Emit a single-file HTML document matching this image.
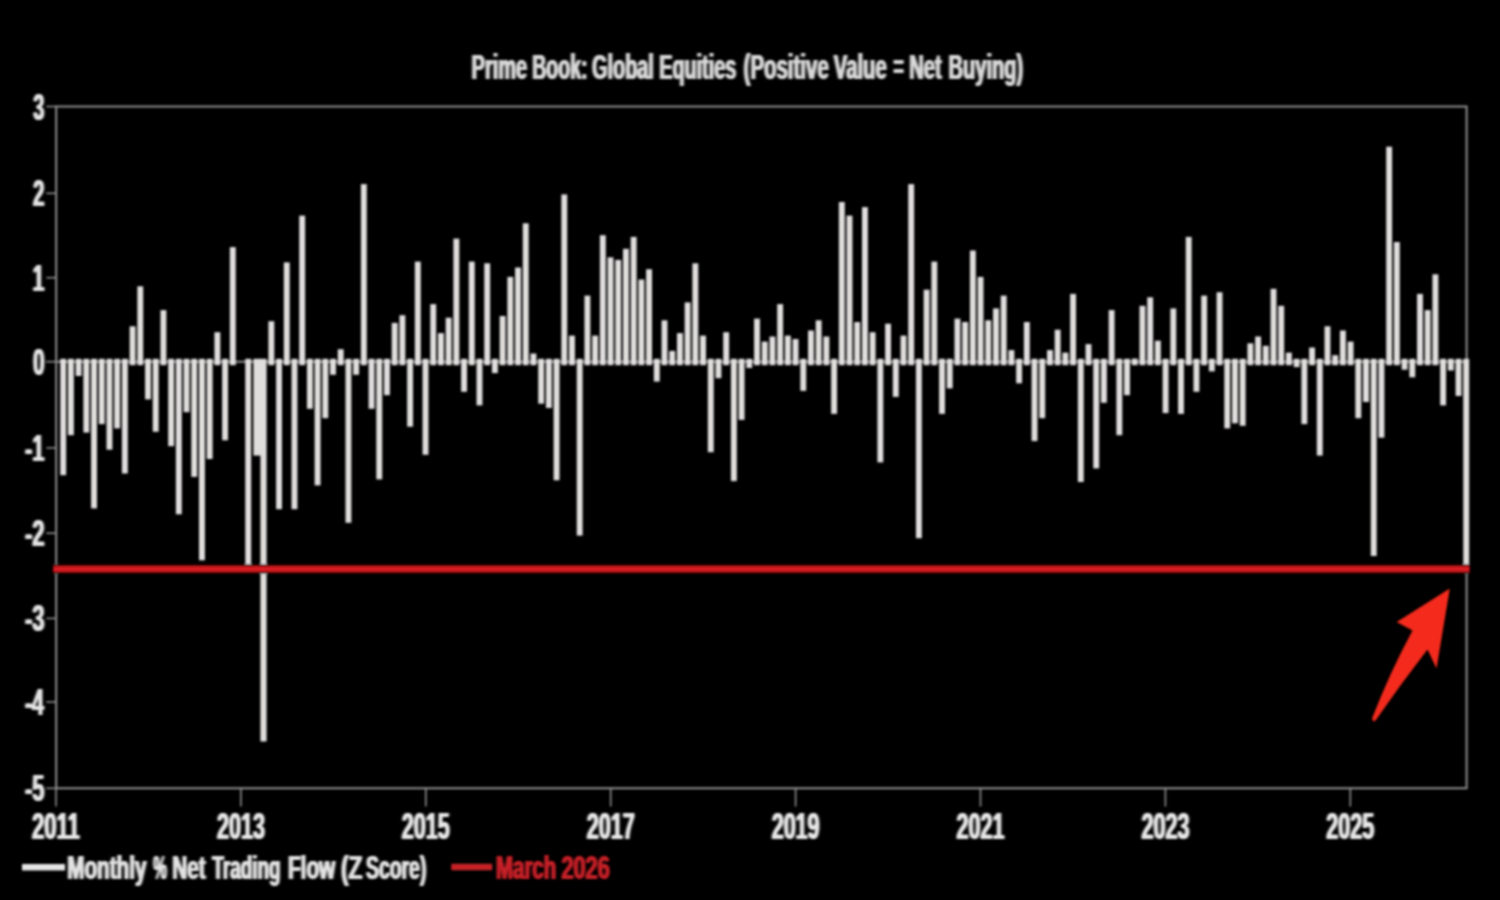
<!DOCTYPE html>
<html lang="en">
<head>
<meta charset="utf-8">
<title>Prime Book: Global Equities</title>
<style>
html,body{margin:0;padding:0;background:#000;}
body{width:1500px;height:900px;overflow:hidden;}
svg{display:block;}
text{font-family:"Liberation Sans",Arial,Helvetica,sans-serif;font-weight:bold;}
</style>
</head>
<body>
<svg width="1500" height="900" viewBox="0 0 1500 900">
<defs>
<filter id="soft" x="-5%" y="-5%" width="110%" height="110%"><feGaussianBlur stdDeviation="1.3"/></filter>
<filter id="txt" x="-1%" y="-1%" width="102%" height="102%" color-interpolation-filters="sRGB"><feGaussianBlur in="SourceGraphic" stdDeviation="0.9 0.3"/><feComponentTransfer><feFuncA type="linear" slope="1.65" intercept="0"/></feComponentTransfer></filter>
</defs>
<rect x="0" y="0" width="1500" height="900" fill="#000"/>
<g filter="url(#soft)">
<g fill="none" stroke="#8e8e8e" stroke-width="2">
<path d="M56.2 106.5 H1466.6 V788.3 H56.2 Z"/>
</g>
<g fill="none" stroke="#8e8e8e" stroke-width="1.6">
<path d="M46.3 106.5 H56.2"/>
<path d="M46.3 193.3 H56.2"/>
<path d="M46.3 277.7 H56.2"/>
<path d="M46.3 361.7 H56.2"/>
<path d="M46.3 447.9 H56.2"/>
<path d="M46.3 533.2 H56.2"/>
<path d="M46.3 618.4 H56.2"/>
<path d="M46.3 702.0 H56.2"/>
<path d="M46.3 788.3 H56.2"/>
<path d="M56.0 788.3 V806.5"/>
<path d="M240.9 788.3 V806.5"/>
<path d="M425.8 788.3 V806.5"/>
<path d="M610.7 788.3 V806.5"/>
<path d="M795.6 788.3 V806.5"/>
<path d="M980.5 788.3 V806.5"/>
<path d="M1165.4 788.3 V806.5"/>
<path d="M1350.3 788.3 V806.5"/>
</g>
<path d="M56.2 361.7 H1466.6" stroke="#8a8a8a" stroke-width="2" fill="none"/>
<g fill="#e0dddd">
<rect x="60.25" y="358.8" width="5.90" height="116.4"/>
<rect x="67.96" y="358.8" width="5.90" height="76.4"/>
<rect x="75.67" y="358.8" width="5.90" height="17.2"/>
<rect x="83.38" y="358.8" width="5.90" height="73.8"/>
<rect x="91.09" y="358.8" width="5.90" height="149.6"/>
<rect x="98.80" y="358.8" width="5.90" height="65.3"/>
<rect x="106.50" y="358.8" width="5.90" height="90.9"/>
<rect x="114.21" y="358.8" width="5.90" height="69.6"/>
<rect x="121.92" y="358.8" width="5.90" height="114.7"/>
<rect x="129.63" y="326.3" width="5.90" height="38.9"/>
<rect x="137.34" y="286.3" width="5.90" height="78.9"/>
<rect x="145.05" y="358.8" width="5.90" height="40.6"/>
<rect x="152.76" y="358.8" width="5.90" height="73.0"/>
<rect x="160.47" y="310.1" width="5.90" height="55.1"/>
<rect x="168.18" y="358.8" width="5.90" height="87.4"/>
<rect x="175.88" y="358.8" width="5.90" height="155.5"/>
<rect x="183.59" y="358.8" width="5.90" height="53.4"/>
<rect x="191.30" y="358.8" width="5.90" height="118.1"/>
<rect x="199.01" y="358.8" width="5.90" height="201.5"/>
<rect x="206.72" y="358.8" width="5.90" height="100.2"/>
<rect x="214.43" y="332.2" width="5.90" height="33.0"/>
<rect x="222.14" y="358.8" width="5.90" height="81.5"/>
<rect x="229.85" y="247.1" width="5.90" height="118.1"/>
<rect x="245.27" y="358.8" width="5.90" height="210.0"/>
<rect x="253.40" y="358.8" width="7.80" height="96.8"/>
<rect x="260.40" y="358.8" width="6.20" height="382.7"/>
<rect x="268.39" y="321.2" width="5.90" height="44.0"/>
<rect x="276.10" y="358.8" width="5.90" height="150.4"/>
<rect x="283.81" y="262.4" width="5.90" height="102.8"/>
<rect x="291.52" y="358.8" width="5.90" height="150.4"/>
<rect x="299.23" y="215.6" width="5.90" height="149.6"/>
<rect x="306.94" y="358.8" width="5.90" height="50.0"/>
<rect x="314.65" y="358.8" width="5.90" height="126.6"/>
<rect x="322.36" y="358.8" width="5.90" height="59.4"/>
<rect x="330.06" y="358.8" width="5.90" height="16.0"/>
<rect x="337.77" y="349.2" width="5.90" height="16.0"/>
<rect x="345.48" y="358.8" width="5.90" height="164.0"/>
<rect x="353.19" y="358.8" width="5.90" height="16.0"/>
<rect x="360.90" y="184.1" width="5.90" height="181.1"/>
<rect x="368.61" y="358.8" width="5.90" height="50.0"/>
<rect x="376.32" y="358.8" width="5.90" height="120.6"/>
<rect x="384.03" y="358.8" width="5.90" height="36.4"/>
<rect x="391.74" y="322.9" width="5.90" height="42.3"/>
<rect x="399.45" y="315.2" width="5.90" height="50.0"/>
<rect x="407.15" y="358.8" width="5.90" height="67.9"/>
<rect x="414.86" y="261.6" width="5.90" height="103.6"/>
<rect x="422.57" y="358.8" width="5.90" height="96.0"/>
<rect x="430.28" y="304.1" width="5.90" height="61.1"/>
<rect x="437.99" y="333.1" width="5.90" height="32.1"/>
<rect x="445.70" y="317.7" width="5.90" height="47.5"/>
<rect x="453.41" y="238.6" width="5.90" height="126.6"/>
<rect x="461.12" y="358.8" width="5.90" height="33.0"/>
<rect x="468.83" y="261.6" width="5.90" height="103.6"/>
<rect x="476.54" y="358.8" width="5.90" height="46.6"/>
<rect x="484.25" y="263.3" width="5.90" height="101.9"/>
<rect x="491.95" y="358.8" width="5.90" height="14.3"/>
<rect x="499.66" y="316.0" width="5.90" height="49.2"/>
<rect x="507.37" y="276.9" width="5.90" height="88.3"/>
<rect x="515.08" y="267.5" width="5.90" height="97.7"/>
<rect x="522.79" y="223.3" width="5.90" height="141.9"/>
<rect x="530.50" y="353.5" width="5.90" height="11.7"/>
<rect x="538.21" y="358.8" width="5.90" height="44.9"/>
<rect x="545.92" y="358.8" width="5.90" height="49.2"/>
<rect x="553.63" y="358.8" width="5.90" height="121.5"/>
<rect x="561.33" y="194.4" width="5.90" height="170.8"/>
<rect x="569.04" y="335.6" width="5.90" height="29.6"/>
<rect x="576.75" y="358.8" width="5.90" height="176.8"/>
<rect x="584.46" y="295.6" width="5.90" height="69.6"/>
<rect x="592.17" y="335.6" width="5.90" height="29.6"/>
<rect x="599.88" y="235.2" width="5.90" height="130.0"/>
<rect x="607.59" y="257.3" width="5.90" height="107.9"/>
<rect x="615.30" y="259.9" width="5.90" height="105.3"/>
<rect x="623.01" y="248.8" width="5.90" height="116.4"/>
<rect x="630.72" y="236.9" width="5.90" height="128.3"/>
<rect x="638.42" y="279.5" width="5.90" height="85.7"/>
<rect x="646.13" y="269.2" width="5.90" height="96.0"/>
<rect x="653.84" y="358.8" width="5.90" height="22.8"/>
<rect x="661.55" y="320.3" width="5.90" height="44.9"/>
<rect x="669.26" y="350.9" width="5.90" height="14.3"/>
<rect x="676.97" y="333.1" width="5.90" height="32.1"/>
<rect x="684.68" y="302.4" width="5.90" height="62.8"/>
<rect x="692.39" y="263.3" width="5.90" height="101.9"/>
<rect x="700.10" y="335.6" width="5.90" height="29.6"/>
<rect x="707.81" y="358.8" width="5.90" height="93.4"/>
<rect x="715.51" y="358.8" width="5.90" height="19.4"/>
<rect x="723.22" y="332.2" width="5.90" height="33.0"/>
<rect x="730.93" y="358.8" width="5.90" height="122.3"/>
<rect x="738.64" y="358.8" width="5.90" height="61.1"/>
<rect x="746.35" y="358.8" width="5.90" height="9.2"/>
<rect x="754.06" y="318.6" width="5.90" height="46.6"/>
<rect x="761.77" y="341.6" width="5.90" height="23.6"/>
<rect x="769.48" y="336.5" width="5.90" height="28.7"/>
<rect x="777.19" y="304.1" width="5.90" height="61.1"/>
<rect x="784.90" y="335.6" width="5.90" height="29.6"/>
<rect x="792.61" y="339.0" width="5.90" height="26.2"/>
<rect x="800.31" y="358.8" width="5.90" height="32.1"/>
<rect x="808.02" y="330.5" width="5.90" height="34.7"/>
<rect x="815.73" y="320.3" width="5.90" height="44.9"/>
<rect x="823.44" y="336.5" width="5.90" height="28.7"/>
<rect x="831.15" y="358.8" width="5.90" height="55.1"/>
<rect x="838.86" y="202.0" width="5.90" height="163.2"/>
<rect x="846.57" y="215.6" width="5.90" height="149.6"/>
<rect x="854.28" y="322.0" width="5.90" height="43.2"/>
<rect x="861.99" y="207.1" width="5.90" height="158.1"/>
<rect x="869.69" y="332.2" width="5.90" height="33.0"/>
<rect x="877.40" y="358.8" width="5.90" height="103.6"/>
<rect x="885.11" y="323.7" width="5.90" height="41.5"/>
<rect x="892.82" y="358.8" width="5.90" height="38.1"/>
<rect x="900.53" y="335.6" width="5.90" height="29.6"/>
<rect x="908.24" y="184.1" width="5.90" height="181.1"/>
<rect x="915.95" y="358.8" width="5.90" height="179.4"/>
<rect x="923.66" y="289.7" width="5.90" height="75.5"/>
<rect x="931.37" y="261.6" width="5.90" height="103.6"/>
<rect x="939.08" y="358.8" width="5.90" height="55.1"/>
<rect x="946.78" y="358.8" width="5.90" height="29.6"/>
<rect x="954.49" y="318.6" width="5.90" height="46.6"/>
<rect x="962.20" y="322.0" width="5.90" height="43.2"/>
<rect x="969.91" y="250.5" width="5.90" height="114.7"/>
<rect x="977.62" y="276.9" width="5.90" height="88.3"/>
<rect x="985.33" y="320.3" width="5.90" height="44.9"/>
<rect x="993.04" y="308.4" width="5.90" height="56.8"/>
<rect x="1000.75" y="295.6" width="5.90" height="69.6"/>
<rect x="1008.46" y="350.1" width="5.90" height="15.1"/>
<rect x="1016.17" y="358.8" width="5.90" height="24.5"/>
<rect x="1023.88" y="322.0" width="5.90" height="43.2"/>
<rect x="1031.58" y="358.8" width="5.90" height="82.3"/>
<rect x="1039.29" y="358.8" width="5.90" height="59.4"/>
<rect x="1047.00" y="350.1" width="5.90" height="15.1"/>
<rect x="1054.71" y="329.7" width="5.90" height="35.5"/>
<rect x="1062.42" y="352.6" width="5.90" height="12.6"/>
<rect x="1070.13" y="293.9" width="5.90" height="71.3"/>
<rect x="1077.84" y="358.8" width="5.90" height="123.2"/>
<rect x="1085.55" y="344.1" width="5.90" height="21.1"/>
<rect x="1093.26" y="358.8" width="5.90" height="109.6"/>
<rect x="1100.96" y="358.8" width="5.90" height="44.0"/>
<rect x="1108.67" y="310.1" width="5.90" height="55.1"/>
<rect x="1116.38" y="358.8" width="5.90" height="76.4"/>
<rect x="1124.09" y="358.8" width="5.90" height="36.4"/>
<rect x="1131.80" y="358.6" width="5.90" height="6.6"/>
<rect x="1139.51" y="305.8" width="5.90" height="59.4"/>
<rect x="1147.22" y="297.3" width="5.90" height="67.9"/>
<rect x="1154.93" y="340.7" width="5.90" height="24.5"/>
<rect x="1162.64" y="358.8" width="5.90" height="54.3"/>
<rect x="1170.35" y="308.4" width="5.90" height="56.8"/>
<rect x="1178.05" y="358.8" width="5.90" height="55.1"/>
<rect x="1185.76" y="236.9" width="5.90" height="128.3"/>
<rect x="1193.47" y="358.8" width="5.90" height="33.0"/>
<rect x="1201.18" y="295.6" width="5.90" height="69.6"/>
<rect x="1208.89" y="358.8" width="5.90" height="12.6"/>
<rect x="1216.60" y="292.2" width="5.90" height="73.0"/>
<rect x="1224.31" y="358.8" width="5.90" height="69.6"/>
<rect x="1232.02" y="358.8" width="5.90" height="64.5"/>
<rect x="1239.73" y="358.8" width="5.90" height="67.0"/>
<rect x="1247.44" y="343.3" width="5.90" height="21.9"/>
<rect x="1255.14" y="336.5" width="5.90" height="28.7"/>
<rect x="1262.85" y="345.8" width="5.90" height="19.4"/>
<rect x="1270.56" y="288.8" width="5.90" height="76.4"/>
<rect x="1278.27" y="305.8" width="5.90" height="59.4"/>
<rect x="1285.98" y="352.6" width="5.90" height="12.6"/>
<rect x="1293.69" y="358.8" width="5.90" height="8.3"/>
<rect x="1301.40" y="358.8" width="5.90" height="65.3"/>
<rect x="1309.11" y="347.5" width="5.90" height="17.7"/>
<rect x="1316.82" y="358.8" width="5.90" height="96.8"/>
<rect x="1324.53" y="326.3" width="5.90" height="38.9"/>
<rect x="1332.23" y="355.2" width="5.90" height="10.0"/>
<rect x="1339.94" y="330.5" width="5.90" height="34.7"/>
<rect x="1347.65" y="341.6" width="5.90" height="23.6"/>
<rect x="1355.36" y="358.8" width="5.90" height="59.4"/>
<rect x="1363.07" y="358.8" width="5.90" height="43.2"/>
<rect x="1370.78" y="358.8" width="5.90" height="197.2"/>
<rect x="1378.49" y="358.8" width="5.90" height="78.9"/>
<rect x="1386.20" y="146.7" width="5.90" height="218.5"/>
<rect x="1393.91" y="242.0" width="5.90" height="123.2"/>
<rect x="1401.62" y="358.8" width="5.90" height="10.9"/>
<rect x="1409.33" y="358.8" width="5.90" height="18.5"/>
<rect x="1417.03" y="293.9" width="5.90" height="71.3"/>
<rect x="1424.74" y="310.1" width="5.90" height="55.1"/>
<rect x="1432.45" y="274.3" width="5.90" height="90.9"/>
<rect x="1440.16" y="358.8" width="5.90" height="46.6"/>
<rect x="1447.87" y="358.8" width="5.90" height="11.7"/>
<rect x="1455.58" y="358.8" width="5.90" height="37.2"/>
<rect x="1463.29" y="358.8" width="5.90" height="210.0"/>
</g>
<path d="M52.5 569 H1470" stroke="#3c0000" stroke-width="9.5" fill="none"/>
<path d="M53.5 569 H1469.5" stroke="#d81b22" stroke-width="5.6" fill="none"/>
<path d="M1449.8 588.5 L1396.7 622 L1412.5 630.5 Q1390 672 1372 718.5 Q1372.6 721.6 1375 721.3 Q1400 685 1427.5 649.5 L1436.5 668.5 Z" fill="#f42b1e"/>
<path d="M22 867.2 H65" stroke="#e6e6e6" stroke-width="6.6" fill="none"/>
<path d="M451.2 867 H492.2" stroke="#c62028" stroke-width="6.4" fill="none"/>
<g filter="url(#txt)">
<text id="title" y="79.00" font-size="34.8" fill="#d8d8d8"><tspan x="471.55" textLength="55.54" lengthAdjust="spacingAndGlyphs">Prime</tspan> <tspan x="532.28" textLength="55.28" lengthAdjust="spacingAndGlyphs">Book:</tspan> <tspan x="592.11" textLength="61.71" lengthAdjust="spacingAndGlyphs">Global</tspan> <tspan x="659.26" textLength="76.97" lengthAdjust="spacingAndGlyphs">Equities</tspan> <tspan x="743.58" textLength="85.20" lengthAdjust="spacingAndGlyphs">(Positive</tspan> <tspan x="833.75" textLength="53.02" lengthAdjust="spacingAndGlyphs">Value</tspan> <tspan x="893.45" textLength="10.28" lengthAdjust="spacingAndGlyphs">=</tspan> <tspan x="909.24" textLength="32.44" lengthAdjust="spacingAndGlyphs">Net</tspan> <tspan x="948.55" textLength="74.54" lengthAdjust="spacingAndGlyphs">Buying)</tspan></text>
<text y="119.52" font-size="37" fill="#e4e4e4"><tspan x="33.35" textLength="11.07" lengthAdjust="spacingAndGlyphs">3</tspan></text>
<text y="206.32" font-size="37" fill="#e4e4e4"><tspan x="33.08" textLength="11.47" lengthAdjust="spacingAndGlyphs">2</tspan></text>
<text y="290.72" font-size="37" fill="#e4e4e4"><tspan x="32.47" textLength="11.84" lengthAdjust="spacingAndGlyphs">1</tspan></text>
<text y="374.72" font-size="37" fill="#e4e4e4"><tspan x="32.97" textLength="11.59" lengthAdjust="spacingAndGlyphs">0</tspan></text>
<text y="460.92" font-size="37" fill="#e4e4e4"><tspan x="24.93" textLength="19.41" lengthAdjust="spacingAndGlyphs">-1</tspan></text>
<text y="546.22" font-size="37" fill="#e4e4e4"><tspan x="24.91" textLength="19.71" lengthAdjust="spacingAndGlyphs">-2</tspan></text>
<text y="631.42" font-size="37" fill="#e4e4e4"><tspan x="24.92" textLength="19.59" lengthAdjust="spacingAndGlyphs">-3</tspan></text>
<text y="715.02" font-size="37" fill="#e4e4e4"><tspan x="24.95" textLength="18.89" lengthAdjust="spacingAndGlyphs">-4</tspan></text>
<text y="801.32" font-size="37" fill="#e4e4e4"><tspan x="24.93" textLength="19.41" lengthAdjust="spacingAndGlyphs">-5</tspan></text>
<text y="838.50" font-size="36" fill="#e8e8e8"><tspan x="32.03" textLength="47.82" lengthAdjust="spacingAndGlyphs">2011</tspan></text>
<text y="838.50" font-size="36" fill="#e8e8e8"><tspan x="216.95" textLength="47.96" lengthAdjust="spacingAndGlyphs">2013</tspan></text>
<text y="838.50" font-size="36" fill="#e8e8e8"><tspan x="401.85" textLength="47.79" lengthAdjust="spacingAndGlyphs">2015</tspan></text>
<text y="838.50" font-size="36" fill="#e8e8e8"><tspan x="586.74" textLength="48.12" lengthAdjust="spacingAndGlyphs">2017</tspan></text>
<text y="838.50" font-size="36" fill="#e8e8e8"><tspan x="771.65" textLength="47.96" lengthAdjust="spacingAndGlyphs">2019</tspan></text>
<text y="838.50" font-size="36" fill="#e8e8e8"><tspan x="956.55" textLength="47.79" lengthAdjust="spacingAndGlyphs">2021</tspan></text>
<text y="838.50" font-size="36" fill="#e8e8e8"><tspan x="1141.45" textLength="47.96" lengthAdjust="spacingAndGlyphs">2023</tspan></text>
<text y="838.50" font-size="36" fill="#e8e8e8"><tspan x="1326.35" textLength="47.79" lengthAdjust="spacingAndGlyphs">2025</tspan></text>
<text id="leg1" y="879.00" font-size="33.5" fill="#e2e2e2"><tspan x="67.20" textLength="79.30" lengthAdjust="spacingAndGlyphs">Monthly</tspan> <tspan x="153.22" textLength="13.59" lengthAdjust="spacingAndGlyphs">%</tspan> <tspan x="172.20" textLength="33.49" lengthAdjust="spacingAndGlyphs">Net</tspan> <tspan x="212.36" textLength="68.29" lengthAdjust="spacingAndGlyphs">Trading</tspan> <tspan x="287.89" textLength="47.45" lengthAdjust="spacingAndGlyphs">Flow</tspan> <tspan x="340.96" textLength="21.50" lengthAdjust="spacingAndGlyphs">(Z</tspan> <tspan x="366.02" textLength="60.35" lengthAdjust="spacingAndGlyphs">Score)</tspan></text>
<text id="leg2" y="879.00" font-size="33.5" fill="#c62028"><tspan x="496.02" textLength="60.21" lengthAdjust="spacingAndGlyphs">March</tspan> <tspan x="561.44" textLength="48.37" lengthAdjust="spacingAndGlyphs">2026</tspan></text>
</g>
</g>
</svg>
</body>
</html>
